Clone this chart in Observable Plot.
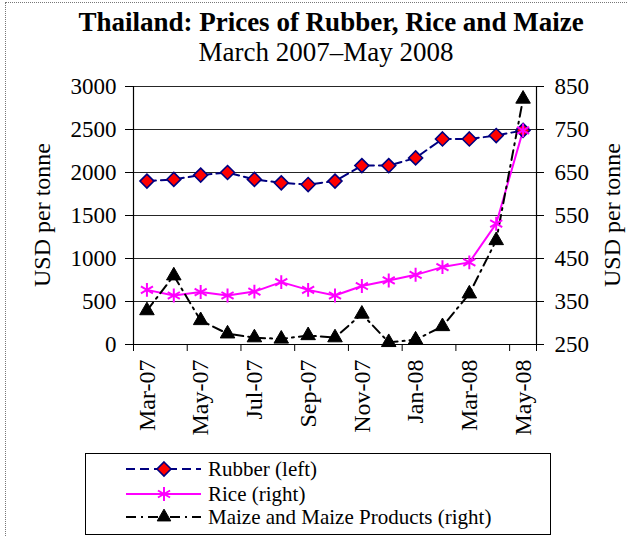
<!DOCTYPE html>
<html>
<head>
<meta charset="utf-8">
<script src="https://cdn.jsdelivr.net/npm/d3@7"></script>
<script src="https://cdn.jsdelivr.net/npm/@observablehq/plot@0.6"></script>
<style>
  html, body { margin: 0; padding: 0; background: #fff; }
  #wrap { position: relative; width: 628px; height: 536px; overflow: hidden; background: #fff; font-family: "Liberation Serif", "Times New Roman", serif; }
  #frameL { position: absolute; left: 5px; top: 2px; width: 0; height: 540px; border-left: 1px dotted #777; }
  #frameT { position: absolute; left: 5px; top: 2px; width: 622px; height: 0; border-top: 1px dotted #777; }
  #chart { position: absolute; left: 0; top: 0; }
  #chart svg text { font-family: "Liberation Serif", "Times New Roman", serif; font-variant: normal; }
  #overlay { position: absolute; left: 0; top: 0; }
  #legend { position: absolute; left: 85px; top: 453px; width: 464px; height: 80px; border: 1px solid #000; background: #fff; }
</style>
</head>
<body>
<div id="wrap">
  <div id="frameL"></div>
  <div id="frameT"></div>
  <div id="chart"></div>
  <svg id="overlay" width="628" height="536"></svg>
  <div id="legend"></div>
</div>
<script>
// ---- data ----
const months = ["Mar-07","Apr-07","May-07","Jun-07","Jul-07","Aug-07","Sep-07","Oct-07","Nov-07","Dec-07","Jan-08","Feb-08","Mar-08","Apr-08","May-08"];
const rubber = [1900,1920,1970,2000,1920,1880,1860,1900,2080,2080,2170,2390,2390,2430,2490];
const rice   = [377,364,372,364,373,395,377,364,386,399,412,430,441,531,748];
const maize  = [329,410,306,275,266,263,271,266,321,255,261,292,368,492,821];
const leftTicks  = [0,500,1000,1500,2000,2500,3000];
const rightTicks = [250,350,450,550,650,750,850];
const seriesNames = ["Rubber (left)","Rice (right)","Maize and Maize Products (right)"];
const titleText = "Thailand: Prices of Rubber, Rice and Maize";
const subtitleText = "March 2007\u2013May 2008";
const axisTitle = "USD per tonne";

// right axis (250..850) mapped onto left axis (0..3000)
const k = leftTicks[leftTicks.length-1] / (rightTicks[rightTicks.length-1] - rightTicks[0]);
const toLeft = v => (v - rightTicks[0]) * k;
const fromLeft = v => v / k + rightTicks[0];

const rows = months.map((m, i) => ({i, m, rubber: rubber[i], rice: toLeft(rice[i]), maize: toLeft(maize[i])}));
const labelIdx = months.map((m, i) => i).filter(i => i % 2 === 0);
const tickIdx = months.map((m, i) => i - 0.5).filter((v, j) => j % 2 === 0).concat([months.length - 0.5]);

const NAVY = "#000080", MAG = "#FF00FF", RED = "#FF0000";
const fontFam = "Liberation Serif, Times New Roman, serif";

const plot = Plot.plot({
  width: 628,
  height: 445,
  marginLeft: 133,
  marginRight: 92,
  marginTop: 86,
  marginBottom: 101,
  style: {fontFamily: fontFam, fontSize: "23px", background: "transparent", overflow: "visible", color: "#000"},
  x: {domain: [-0.5, months.length - 0.5]},
  y: {domain: [leftTicks[0], leftTicks[leftTicks.length-1]]},
  marks: [
    Plot.gridY(leftTicks.slice(1), {stroke: "#000", strokeOpacity: 0.85, strokeWidth: 1}),
    Plot.ruleY([leftTicks[0]], {stroke: "#000", strokeWidth: 1.2}),
    Plot.ruleX([-0.5, months.length - 0.5], {stroke: "#000", strokeWidth: 1.2}),
    Plot.axisY({anchor: "left", ticks: leftTicks, tickSize: 8, tickPadding: 9, label: null, fontSize: 23, fontFamily: fontFam, tickFormat: d => String(d), stroke: "#000"}),
    Plot.axisY({anchor: "right", ticks: leftTicks, tickSize: 7, tickPadding: 11, label: null, fontSize: 23, fontFamily: fontFam, tickFormat: d => String(fromLeft(d)), stroke: "#000"}),
    Plot.axisX({anchor: "bottom", ticks: tickIdx, tickSize: 7, tickFormat: () => "", label: null, stroke: "#000"}),
    Plot.axisX({anchor: "bottom", ticks: labelIdx, tickSize: 0, tickPadding: 15, tickRotate: -90, tickFormat: i => months[i], label: null, fontSize: 24, fontFamily: fontFam}),
    // Rubber
    Plot.line(rows, {x: "i", y: "rubber", stroke: NAVY, strokeWidth: 2, strokeDasharray: "9,5"}),
    // Rice
    Plot.line(rows, {x: "i", y: "rice", stroke: MAG, strokeWidth: 2}),
    // Maize
    Plot.line(rows, {x: "i", y: "maize", stroke: "#000", strokeWidth: 2, strokeDasharray: "10,5,2,5"}),
    Plot.dot(rows, {x: "i", y: "rubber", symbol: "diamond2", r: 6.3, fill: RED, stroke: NAVY, strokeWidth: 1.6}),
    Plot.dot(rows, {x: "i", y: "rice", symbol: "asterisk", r: 6.6, stroke: MAG, strokeWidth: 2}),
    Plot.dot(rows, {x: "i", y: "maize", symbol: "triangle", r: 5.4, fill: "#000", stroke: "#000", strokeWidth: 1})
  ]
});
document.getElementById("chart").appendChild(plot);

// ---- titles ----
const ov = d3.select("#overlay");
ov.append("text").attr("x", 331).attr("y", 31).attr("text-anchor", "middle")
  .attr("font-family", fontFam).attr("font-size", 27).attr("font-weight", "bold").text(titleText);
ov.append("text").attr("x", 326).attr("y", 61).attr("text-anchor", "middle")
  .attr("font-family", fontFam).attr("font-size", 27).text(subtitleText);
ov.append("text").attr("transform", "translate(50,215) rotate(-90)").attr("text-anchor", "middle")
  .attr("font-family", fontFam).attr("font-size", 24).text(axisTitle);
ov.append("text").attr("transform", "translate(620,215) rotate(-90)").attr("text-anchor", "middle")
  .attr("font-family", fontFam).attr("font-size", 24).text(axisTitle);

// ---- legend ----
const lg = d3.select("#legend").append("svg").attr("width", 464).attr("height", 80);
const ys = [15, 40, 63];
const styles = [
  {stroke: NAVY, dash: "9,5", sym: d3.symbolDiamond2, size: 125, fill: RED, sstroke: NAVY, sw: 1.6},
  {stroke: MAG, dash: null, sym: d3.symbolAsterisk, size: 138, fill: "none", sstroke: MAG, sw: 2},
  {stroke: "#000", dash: "10,5,2,5", sym: d3.symbolTriangle, size: 80, fill: "#000", sstroke: "#000", sw: 1}
];
seriesNames.forEach((name, j) => {
  const s = styles[j];
  const g = lg.append("g").attr("transform", `translate(0,${ys[j]})`);
  g.append("line").attr("x1", 40).attr("x2", 115).attr("y1", 0).attr("y2", 0)
    .attr("stroke", s.stroke).attr("stroke-width", 2).attr("stroke-dasharray", s.dash);
  g.append("path").attr("transform", "translate(78,0)").attr("d", d3.symbol(s.sym, s.size)())
    .attr("fill", s.fill).attr("stroke", s.sstroke).attr("stroke-width", s.sw);
  g.append("text").attr("x", 122).attr("y", 0).attr("dy", "0.33em")
    .attr("font-family", fontFam).attr("font-size", 21).text(name);
});
</script>
</body>
</html>
